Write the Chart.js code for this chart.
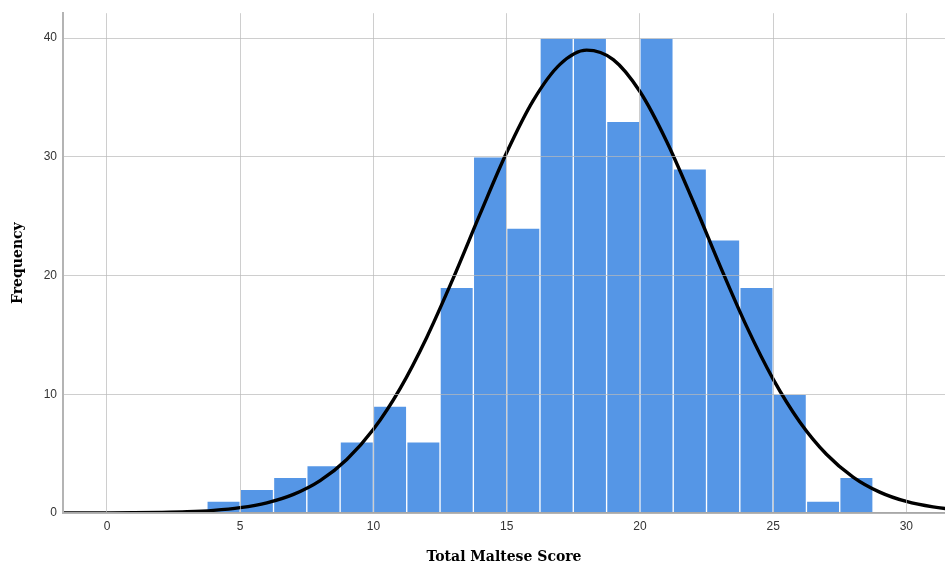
<!DOCTYPE html>
<html><head><meta charset="utf-8">
<script src="https://cdn.jsdelivr.net/npm/chart.js@4.4.1/dist/chart.umd.min.js"></script>
<style>html,body{margin:0;padding:0;background:#fff}#wrap{width:945px;height:570px}</style>
</head><body><div id="wrap"><canvas id="c" width="945" height="570"></canvas></div>
<script>
// Histogram bins (centres, width 1.25) and counts
const binCenters = [4.375, 5.625, 6.875, 8.125, 9.375, 10.625, 11.875, 13.125, 14.375, 15.625,
                    16.875, 18.125, 19.375, 20.625, 21.875, 23.125, 24.375, 25.625, 26.875, 28.125];
const frequencies = [1, 2, 3, 4, 6, 9, 6, 19, 30, 24, 40, 40, 33, 40, 29, 23, 19, 10, 1, 3];
// Normal curve points
const curveX = [-2,-1,0,1,2,3,4,5,6,7,8,9,10,11,12,13,14,15,16,17,18,19,20,21,22,23,24,25,26,27,28,29,30,31,32];
const curveY = [0.001,0.003,0.008,0.019,0.045,0.10,0.22,0.45,0.86,1.57,2.73,4.51,7.05,10.48,14.79,19.80,25.17,30.36,34.76,37.79,38.99,38.19,35.50,31.32,26.24,20.86,15.74,11.28,7.67,4.95,3.03,1.76,0.97,0.51,0.25];
const xTicks = [0, 5, 10, 15, 20, 25, 30];
const yTicks = [0, 10, 20, 30, 40];
const xTitle = 'Total Maltese Score';
const yTitle = 'Frequency';

const barData = binCenters.map((x, i) => ({x: x, y: frequencies[i]}));
const lineData = curveX.map((x, i) => ({x: x, y: curveY[i]}));

const tickFont = {family: '"Liberation Sans", Arial, sans-serif', size: 12};
const titleFont = {family: '"DejaVu Serif", serif', size: 14, weight: 'bold'};
const gridColor = 'rgba(185,185,185,0.7)';

new Chart(document.getElementById('c'), {
  type: 'bar',
  data: {
    datasets: [
      {
        type: 'line', data: lineData, order: 0,
        borderColor: '#000', borderWidth: 3.4, pointRadius: 0,
        cubicInterpolationMode: 'monotone', fill: false
      },
      {
        type: 'bar', data: barData, order: 1,
        backgroundColor: '#5596e6', borderColor: 'rgba(255,255,255,0.85)',
        borderWidth: 1, barPercentage: 1, categoryPercentage: 1
      }
    ]
  },
  options: {
    responsive: false, animation: false, devicePixelRatio: 1,
    layout: {padding: {top: 12, right: 0, left: 0, bottom: 0}},
    plugins: {legend: {display: false}, tooltip: {enabled: false}},
    scales: {
      x: {
        type: 'linear', min: -1.65, max: 31.45, offset: false,
        afterBuildTicks: s => { s.ticks = xTicks.map(v => ({value: v})); },
        afterFit: s => { s.height = 57; },
        grid: {color: gridColor, lineWidth: 1, drawTicks: false, offset: false, z: 1},
        border: {color: '#a8a8a8', width: 2, z: 1},
        ticks: {font: tickFont, color: '#333333', padding: 6, maxRotation: 0},
        title: {display: true, text: xTitle, font: titleFont, color: '#000', padding: {top: 4, bottom: 4}}
      },
      y: {
        type: 'linear', min: 0, max: 42.1,
        afterBuildTicks: s => { s.ticks = yTicks.map(v => ({value: v})); },
        afterFit: s => { s.width = 63; },
        grid: {color: gridColor, lineWidth: 1, drawTicks: false, z: 1},
        border: {color: '#b4b4b4', width: 2, z: 1},
        ticks: {font: tickFont, color: '#333333', padding: 6},
        title: {display: true, text: yTitle, font: titleFont, color: '#000', padding: {top: 10, bottom: 4}}
      }
    }
  }
});
</script></body></html>
